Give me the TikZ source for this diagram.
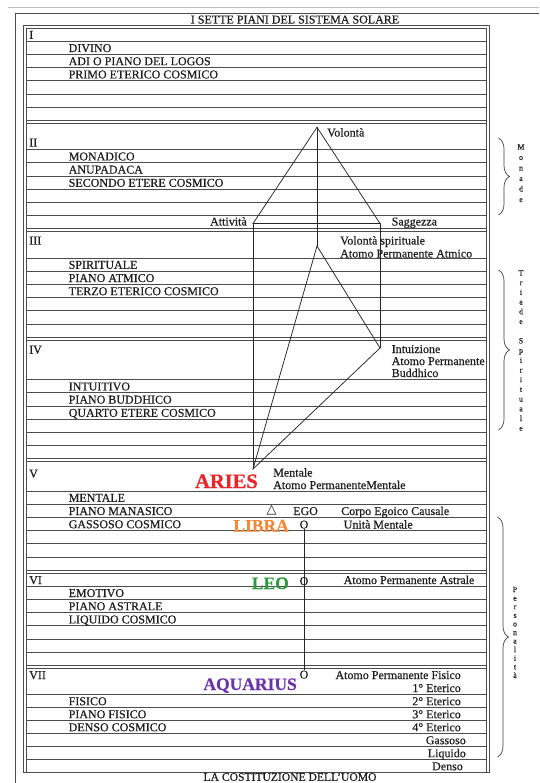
\documentclass[tikz,border=0pt]{standalone}
\usepackage{fontspec}
\setmainfont{Liberation Serif}[FakeBold=0.5]
\newfontfamily\symfont{DejaVu Sans}
\usetikzlibrary{decorations.pathreplacing}
\definecolor{ariesred}{HTML}{E8262B}
\definecolor{libraor}{HTML}{F4893A}
\definecolor{leogreen}{HTML}{2E9A3E}
\definecolor{aqpurple}{HTML}{6B34A8}
\definecolor{inkc}{HTML}{1E1E1E}
\begin{document}
\begin{tikzpicture}[x=1pt,y=-1pt,
  tline/.style={draw=black!70,line width=0.8pt},
  fig/.style={draw=black!85,line width=0.75pt},
  txt/.style={inner sep=0pt,anchor=base west,text=inkc,font=\fontsize{12}{14}\selectfont},
  rtxt/.style={txt,anchor=base east},
  ctxt/.style={txt,anchor=base},
  zod/.style={inner sep=0pt,anchor=base east,font=\bfseries\fontsize{17.5}{18}\selectfont},
  vlet/.style={inner sep=0pt,anchor=base,text=inkc,font=\fontsize{8}{8}\selectfont},
  bracestyle/.style={draw=black!75,line width=0.7pt,decorate,decoration={brace,amplitude=11pt}}]
\useasboundingbox (0,0) rectangle (539,783);
\fill[white] (0,0) rectangle (539,783);
% page edge and outer frame
\draw[draw=black!25,line width=0.8pt] (8,7) -- (539,7);
\draw[draw=black!70,line width=0.8pt] (539,13.5) -- (15,13.5) -- (15,783);
% table border (double)
\draw[tline] (23.5,25.5) rectangle (489,772.6);
\draw[tline] (26,772.6) -- (26,28) -- (486.5,28) -- (486.5,772.6);
% row lines
\foreach \yy in {41.2,54.4,67.6,80.8,94.0,107.2,120.4,123.2,
  149.6,162.8,176.0,189.2,202.4,215.6,228.8,231.6,
  258.0,271.2,284.4,297.6,310.8,324.0,337.2,340.0,
  379.6,392.8,406.0,419.2,432.4,445.6,458.8,461.6,
  491.0,504.2,517.4,530.6,543.8,557.0,570.2,573.0,
  586.2,599.4,612.6,625.8,639.0,652.2,665.4,668.2,
  694.6,707.6,720.6,733.6,746.6,759.6}
  {\draw[tline] (26,\yy) -- (486.5,\yy);}
% titles
\node[ctxt] (title) at (295,23.5) {I SETTE PIANI DEL SISTEMA SOLARE};
\node[ctxt,font=\fontsize{11.6}{14}\selectfont] (footer) at (290,780.8) {LA COSTITUZIONE DELL’UOMO};
% roman numerals
\node[txt] (r1) at (29,38.8) {I};
\node[txt] (r2) at (29,146.5) {II};
\node[txt] (r3) at (29,244.5) {III};
\node[txt] (r4) at (29,353.5) {IV};
\node[txt] (r5) at (29,477.5) {V};
\node[txt] (r6) at (29,584) {VI};
\node[txt] (r7) at (29,679) {VII};
% plane names
\node[txt] (n1a) at (68.5,52) {DIVINO};
\node[txt] (n1b) at (68.5,65.2) {ADI O PIANO DEL LOGOS};
\node[txt] (n1c) at (68.5,78.4) {PRIMO ETERICO COSMICO};
\node[txt] (n2a) at (68.5,160.4) {MONADICO};
\node[txt] (n2b) at (68.5,173.6) {ANUPADACA};
\node[txt] (n2c) at (68.5,186.8) {SECONDO ETERE COSMICO};
\node[txt] (n3a) at (68.5,268.8) {SPIRITUALE};
\node[txt] (n3b) at (68.5,282) {PIANO ATMICO};
\node[txt] (n3c) at (68.5,295.2) {TERZO ETERICO COSMICO};
\node[txt] (n4a) at (68.5,390.4) {INTUITIVO};
\node[txt] (n4b) at (68.5,403.6) {PIANO BUDDHICO};
\node[txt] (n4c) at (68.5,416.8) {QUARTO ETERE COSMICO};
\node[txt] (n5a) at (68.5,501.8) {MENTALE};
\node[txt] (n5b) at (68.5,515) {PIANO MANASICO};
\node[txt] (n5c) at (68.5,528.2) {GASSOSO COSMICO};
\node[txt] (n6a) at (68.5,597) {EMOTIVO};
\node[txt] (n6b) at (68.5,610.2) {PIANO ASTRALE};
\node[txt] (n6c) at (68.5,623.4) {LIQUIDO COSMICO};
\node[txt] (n7a) at (68.5,705.2) {FISICO};
\node[txt] (n7b) at (68.5,718.2) {PIANO FISICO};
\node[txt] (n7c) at (68.5,731.2) {DENSO COSMICO};
% figure points
\coordinate (vol) at (317,127.3);
\coordinate (att) at (253,223.5);
\coordinate (sag) at (380,223.5);
\coordinate (vsp) at (317,246);
\coordinate (int) at (380,348);
\coordinate (men) at (253,469);
\draw[fig] (vol) -- (att) -- (sag) -- cycle;
\draw[fig] (vol) -- (vsp);
\draw[fig] (att) -- (men);
\draw[fig] (sag) -- (int);
\draw[fig] (vsp) -- (men) -- (int) -- cycle;
% figure labels
\node[txt] (lvol) at (327,136.5) {Volontà};
\node[rtxt] (latt) at (247,225.5) {Attività};
\node[txt] (lsag) at (391.5,225.5) {Saggezza};
\node[txt] (lvsp) at (340,244.5) {Volontà spirituale};
\node[txt] (lapa) at (340,257.5) {Atomo Permanente Atmico};
\node[txt] (lint) at (391.5,353) {Intuizione};
\node[txt] (lapb) at (391.5,365) {Atomo Permanente};
\node[txt] (lbud) at (391.5,377) {Buddhico};
\node[txt] (lmen) at (273,476.5) {Mentale};
\node[txt] (lapm) at (273,489) {Atomo PermanenteMentale};
\node[zod,text=ariesred,font=\bfseries\fontsize{20.5}{21}\selectfont] (aries) at (258,488) {ARIES};
\node[inner sep=0pt,text=inkc,font=\symfont\fontsize{13}{13}\selectfont] (delta) at (271.5,510) {△};
\node[txt] (ego) at (293,515) {EGO};
\node[txt] (lcec) at (341,515) {Corpo Egoico Causale};
\node[zod,text=libraor] (libra) at (289,531.5) {LIBRA};
\node[ctxt] (o1) at (304,528.5) {O};
\node[txt] (lum) at (343.5,528.5) {Unità Mentale};
\node[zod,text=leogreen] (leo) at (289,589) {LEO};
\node[ctxt] (o2) at (304,585) {O};
\node[txt] (lapas) at (343.5,584) {Atomo Permanente Astrale};
\node[zod,text=aqpurple] (aqua) at (297,690) {AQUARIUS};
\node[ctxt] (o3) at (304,678.5) {O};
\draw[fig] (o1.south) -- (o3.north);
\node[rtxt] (lapf) at (461,679) {Atomo Permanente Fisico};
\node[rtxt] (e1) at (461,692) {1° Eterico};
\node[rtxt] (e2) at (461,705.2) {2° Eterico};
\node[rtxt] (e3) at (461,718.2) {3° Eterico};
\node[rtxt] (e4) at (461,731.2) {4° Eterico};
\node[rtxt] (gas) at (466,744.2) {Gassoso};
\node[rtxt] (liq) at (466,757.2) {Liquido};
\node[rtxt] (den) at (463,770.2) {Denso};
% braces
\coordinate (mtop) at (498.5,138);
\coordinate (mbot) at (498.5,215);
\draw[bracestyle] (mtop) -- (mbot);
\coordinate (ttop) at (498.5,270);
\coordinate (tbot) at (498.5,430);
\draw[bracestyle] (ttop) -- (tbot);
\coordinate (ptop) at (497.5,517);
\coordinate (pbot) at (497.5,757);
\draw[bracestyle] (ptop) -- (pbot);
\foreach \ch [count=\i from 0] in {M,o,n,a,d,e}
  {\node[vlet] (mon\i) at (521,{149.5+\i*10.5}) {\ch};}
\foreach \ch [count=\i from 0] in {T,r,i,a,d,e}
  {\node[vlet] (tri\i) at (521,{275.5+\i*9.7}) {\ch};}
\foreach \ch [count=\i from 0] in {S,p,i,r,i,t,u,a,l,e}
  {\node[vlet] (spi\i) at (521,{343.4+\i*9.7}) {\ch};}
\foreach \ch [count=\i from 0] in {P,e,r,s,o,n,a,l,i,t,à}
  {\node[vlet] (per\i) at (515,{592+\i*8.6}) {\ch};}
\end{tikzpicture}
\end{document}
